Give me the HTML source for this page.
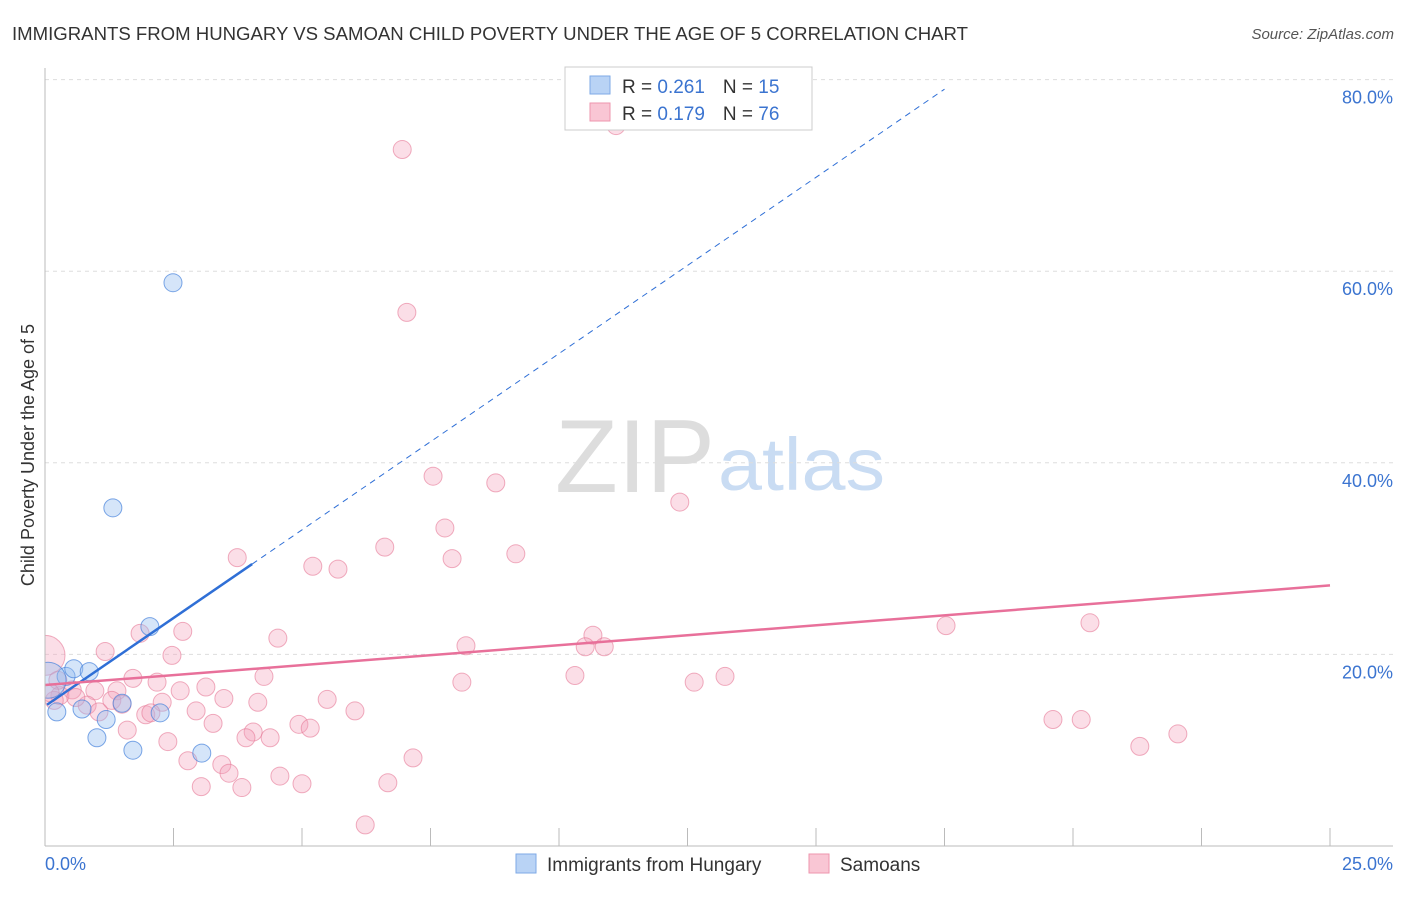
<!DOCTYPE html>
<html><head><meta charset="utf-8"><style>
body{margin:0;background:#fff;font-family:"Liberation Sans",sans-serif}
svg text{font-family:"Liberation Sans",sans-serif}
</style></head><body>
<svg id="c" width="1406" height="892">
<defs><clipPath id="plot"><rect x="45" y="60" width="1360" height="790"/></clipPath></defs>
<text x="12" y="40" font-size="18" fill="#333" textLength="956" lengthAdjust="spacingAndGlyphs">IMMIGRANTS FROM HUNGARY VS SAMOAN CHILD POVERTY UNDER THE AGE OF 5 CORRELATION CHART</text>
<text x="1394" y="39" font-size="15" font-style="italic" fill="#555" text-anchor="end">Source: ZipAtlas.com</text>
<text x="715" y="492" font-size="104" fill="#ddd" text-anchor="end" font-family="Liberation Serif" textLength="160" lengthAdjust="spacingAndGlyphs">ZIP</text>
<text x="718" y="490" font-size="74" fill="#c9dcf3" textLength="167" lengthAdjust="spacingAndGlyphs">atlas</text>
<text transform="translate(34,455) rotate(-90)" font-size="18" fill="#333" text-anchor="middle">Child Poverty Under the Age of 5</text>
<g id="grid"></g><g id="marks" clip-path="url(#plot)"></g><g id="lines"></g>
<line x1="45" y1="68" x2="45" y2="846" stroke="#bbb"/>
<line x1="45" y1="846" x2="1393" y2="846" stroke="#bbb"/>
<text x="45" y="870" font-size="18" fill="#3b74d0">0.0%</text>
<text x="1393" y="870" font-size="18" fill="#3b74d0" text-anchor="end">25.0%</text>
<g>
<rect x="565" y="67" width="247" height="63" fill="#fff" stroke="#ccc"/>
<rect x="590" y="76" width="20" height="18" fill="#b9d3f5" stroke="#7ea9e6"/>
<rect x="590" y="103" width="20" height="18" fill="#f9c6d4" stroke="#ee95ae"/>
<text x="622" y="93" font-size="19" fill="#333">R = <tspan fill="#3b74d0">0.261</tspan><tspan dx="18">N = </tspan><tspan fill="#3b74d0">15</tspan></text>
<text x="622" y="120" font-size="19" fill="#333">R = <tspan fill="#3b74d0">0.179</tspan><tspan dx="18">N = </tspan><tspan fill="#3b74d0">76</tspan></text>
</g>
<g>
<rect x="516" y="854" width="20" height="19" fill="#b9d3f5" stroke="#7ea9e6"/>
<text x="547" y="871" font-size="19" fill="#333">Immigrants from Hungary</text>
<rect x="809" y="854" width="20" height="19" fill="#f9c6d4" stroke="#ee95ae"/>
<text x="840" y="871" font-size="19" fill="#333">Samoans</text>
</g>
</svg>
<script>
const yTicks=[20,40,60,80];
const xTicks=[0,2.5,5,7.5,10,12.5,15,17.5,20,22.5,25];
const hungaryX=[2.49,1.32,2.04,0.41,0.56,0.86,0.23,0.72,1.50,1.19,2.24,1.01,1.71,3.05,0.06];
const hungaryY=[58.8,35.3,22.9,17.7,18.5,18.2,14.0,14.3,14.9,13.2,13.9,11.3,10.0,9.7,17.3];
const hungaryBig=[0,0,0,0,0,0,0,0,0,0,0,0,0,0,1];
const samoanX=[6.95,11.11,7.04,7.55,8.77,12.35,7.78,6.61,7.92,9.16,3.74,5.21,5.70,17.53,20.33,2.68,1.85,4.53,8.19,10.66,10.51,10.88,1.17,2.47,0,4.26,1.71,2.18,8.11,10.31,12.63,13.23,2.63,3.13,1.40,0.97,0.53,0.29,0.82,3.48,4.14,5.49,2.28,2.94,1.05,1.96,2.06,6.03,3.27,4.94,5.16,4.05,3.91,4.38,1.60,2.39,2.78,3.44,3.58,4.57,3.04,3.83,5.00,6.67,7.16,6.23,19.61,20.16,21.30,22.04,0.25,0.18,1.30,1.50,0.1,0.6];
const samoanY=[72.7,75.2,55.7,38.6,37.9,35.9,33.2,31.2,30.0,30.5,30.1,29.2,28.9,23.0,23.3,22.4,22.2,21.7,20.9,22.0,20.8,20.8,20.3,19.9,19.9,17.7,17.5,17.1,17.1,17.8,17.1,17.7,16.2,16.6,16.2,16.2,16.3,15.7,14.7,15.4,15.0,15.3,15.0,14.1,14.0,13.7,13.9,14.1,12.8,12.7,12.3,11.9,11.3,11.3,12.1,10.9,8.9,8.5,7.6,7.3,6.2,6.1,6.5,6.6,9.2,2.2,13.2,13.2,10.4,11.7,17.3,15.2,15.2,14.8,16.0,15.5];
const hungaryTrend=[14.6,3.68];
const samoanTrend=[16.8,27.2];
const X=v=>45+v*51.4, Y=v=>846-v*9.58;
const NS="http://www.w3.org/2000/svg";
function mk(t,a,p){const e=document.createElementNS(NS,t);for(const k in a)e.setAttribute(k,a[k]);p.appendChild(e);return e;}
const grid=document.getElementById('grid'),marks=document.getElementById('marks'),lines=document.getElementById('lines');
yTicks.forEach(v=>{const l=mk('line',{x1:45,x2:1393,y1:Y(v),y2:Y(v),stroke:'#ddd','stroke-dasharray':'4,4'},grid);


const t=mk('text',{x:1393,y:Y(v)+24,'font-size':18,fill:'#3b74d0','text-anchor':'end'},grid);t.textContent=v.toFixed(1)+'%';

});
xTicks.forEach(v=>{const l=mk('line',{x1:X(v),x2:X(v),y1:828,y2:846,stroke:'#bbb'},grid);

});
samoanX.forEach((x,i)=>{const r=(x===0)?20:9;const c=mk('circle',{cx:X(x),cy:Y(samoanY[i]),r:r,fill:'rgba(244,160,185,0.35)',stroke:'rgba(230,120,150,0.6)'},marks);

});
hungaryX.forEach((x,i)=>{const c=mk('circle',{cx:X(x),cy:Y(hungaryY[i]),r:hungaryBig[i]?18:9,fill:'rgba(150,190,240,0.4)',stroke:'rgba(70,130,220,0.7)'},marks);

});
const hb=hungaryTrend[0],hs=hungaryTrend[1];
const h1=mk('line',{x1:X(0.04),y1:Y(hb+hs*0.04),x2:X(4.03),y2:Y(hb+hs*4.03),stroke:'#2f6fd6','stroke-width':2.5},lines);


const h2=mk('line',{x1:X(4.03),y1:Y(hb+hs*4.03),x2:X(17.5),y2:Y(hb+hs*17.5),stroke:'#2f6fd6','stroke-width':1,'stroke-dasharray':'6,5'},lines);


const p=mk('line',{x1:X(0),y1:Y(samoanTrend[0]),x2:X(25),y2:Y(samoanTrend[1]),stroke:'#e8709a','stroke-width':2.5},lines);


</script>
</body></html>
